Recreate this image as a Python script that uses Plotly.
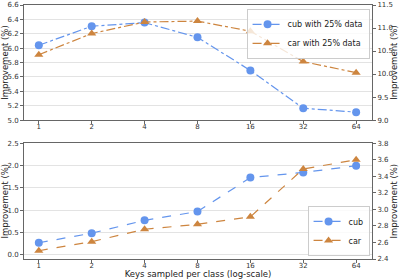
import numpy as np
import plotly.graph_objects as go
from plotly.subplots import make_subplots

keys = [1, 2, 4, 8, 16, 32, 64]
tick_labels = ["1", "2", "4", "8", "16", "32", "64"]

cub_25 = [6.04, 6.305, 6.355, 6.15, 5.69, 5.165, 5.11]
car_25 = [10.42, 10.88, 11.13, 11.15, 10.93, 10.27, 10.03]

cub_full = [0.265, 0.48, 0.77, 0.965, 1.73, 1.845, 1.995]
car_full = [2.50, 2.61, 2.76, 2.82, 2.91, 3.49, 3.60]

BLUE = "#6495ED"
ORANGE = "#CD853F"
FONT = "DejaVu Sans"

fig = make_subplots(rows=2, cols=1, specs=[[{"secondary_y": True}], [{"secondary_y": True}]])

fig.add_trace(go.Scatter(x=keys, y=cub_25, name="cub with 25% data", mode="lines+markers",
                         line=dict(color=BLUE, width=1.2, dash="dashdot"),
                         marker=dict(symbol="circle", size=8, color=BLUE),
                         legend="legend"), row=1, col=1, secondary_y=False)
fig.add_trace(go.Scatter(x=keys, y=car_25, name="car with 25% data", mode="lines+markers",
                         line=dict(color=ORANGE, width=1.2, dash="dashdot"),
                         marker=dict(symbol="triangle-up", size=8, color=ORANGE),
                         legend="legend"), row=1, col=1, secondary_y=True)
fig.add_trace(go.Scatter(x=keys, y=cub_full, name="cub", mode="lines+markers",
                         line=dict(color=BLUE, width=1.2, dash="dash"),
                         marker=dict(symbol="circle", size=8, color=BLUE),
                         legend="legend2"), row=2, col=1, secondary_y=False)
fig.add_trace(go.Scatter(x=keys, y=car_full, name="car", mode="lines+markers",
                         line=dict(color=ORANGE, width=1.2, dash="dash"),
                         marker=dict(symbol="triangle-up", size=8, color=ORANGE),
                         legend="legend2"), row=2, col=1, secondary_y=True)

xr = [np.log10(2 ** -0.28), np.log10(2 ** 6.3)]
axis_line = "#666666"
tickfont = dict(family=FONT, size=7, color="#333333")
titlefont = dict(family=FONT, size=8.5, color="#222222")

common_x = dict(type="log", range=xr, tickvals=keys, ticktext=tick_labels,
                showgrid=False, showline=True, linecolor=axis_line, linewidth=1, mirror=True,
                ticks="outside", ticklen=3, tickcolor=axis_line, tickfont=tickfont,
                ticklabelstandoff=-3, zeroline=False)
fig.update_layout(
    xaxis=dict(**common_x, domain=[0, 1], anchor="y"),
    xaxis2=dict(**common_x, domain=[0, 1], anchor="y3",
                title=dict(text="Keys sampled per class (log-scale)", font=titlefont, standoff=0)),
)

common_y = dict(showline=True, linecolor=axis_line, linewidth=1, ticks="outside", ticklen=3,
                tickcolor=axis_line, tickfont=tickfont, zeroline=False)
fig.update_layout(
    yaxis=dict(**common_y, domain=[0.547, 1.0], range=[5.0, 6.6], dtick=0.2, tickformat=".1f",
               showgrid=True, gridcolor="#e3e3e3", gridwidth=1,
               title=dict(text="Improvement (%)", font=titlefont, standoff=3)),
    yaxis2=dict(**common_y, range=[9.0, 11.5], dtick=0.5, tickformat=".1f", showgrid=False,
                title=dict(text="Improvement (%)", font=titlefont, standoff=3)),
    yaxis3=dict(**common_y, domain=[0.0, 0.4555], range=[-0.1, 2.5], tick0=0, dtick=0.5, tickformat=".1f",
                showgrid=True, gridcolor="#e3e3e3", gridwidth=1,
                title=dict(text="Improvement (%)", font=titlefont, standoff=3)),
    yaxis4=dict(**common_y, range=[2.4, 3.8], dtick=0.2, tickformat=".1f", showgrid=False,
                title=dict(text="Improvement (%)", font=titlefont, standoff=3)),
)

fig.update_layout(
    width=399, height=279,
    margin=dict(l=24, r=27, t=5, b=20, autoexpand=False),
    paper_bgcolor="white", plot_bgcolor="white",
    font=dict(family=FONT, size=8, color="#222222"),
    legend=dict(x=0.993, y=0.985, xanchor="right", yanchor="top", xref="paper", yref="paper",
                bgcolor="rgba(255,255,255,0.8)", bordercolor="#cccccc", borderwidth=1,
                font=dict(family=FONT, size=8, color="#222222"),
                tracegroupgap=0, itemwidth=30),
    legend2=dict(x=0.993, y=0.012, xanchor="right", yanchor="bottom", xref="paper", yref="paper",
                 bgcolor="rgba(255,255,255,0.8)", bordercolor="#cccccc", borderwidth=1,
                 font=dict(family=FONT, size=8, color="#222222"),
                 tracegroupgap=0, itemwidth=30),
    showlegend=True,
)

fig.write_html("out.html", config={"displayModeBar": False},
               post_script="document.body.style.margin='0';document.body.style.overflow='hidden';")
